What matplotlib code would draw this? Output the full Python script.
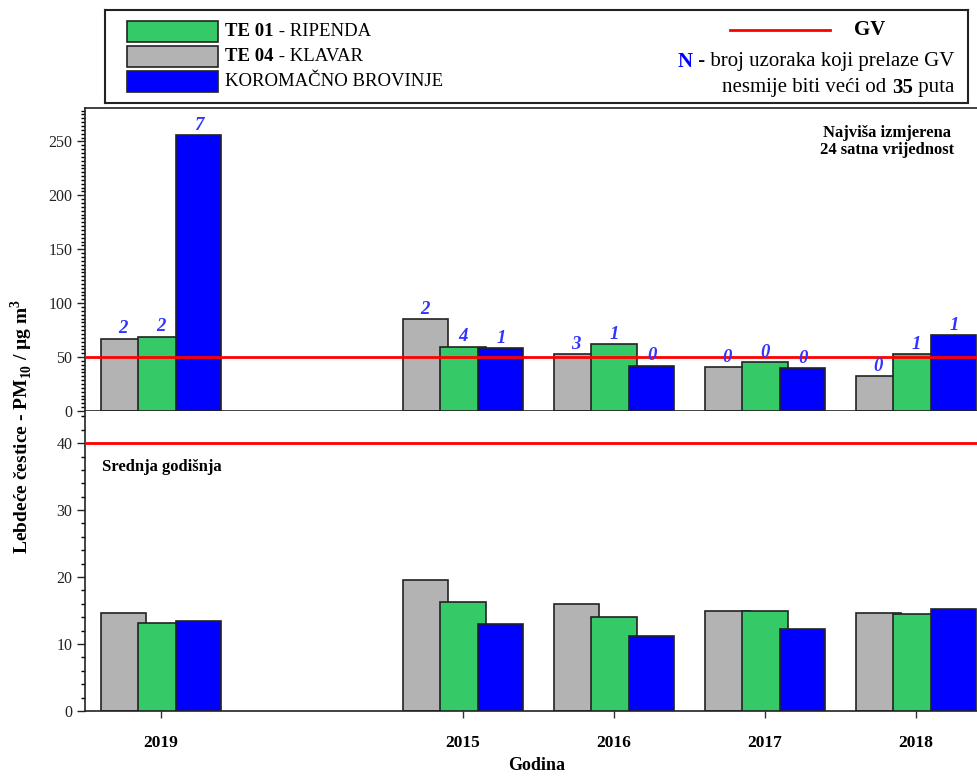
import numpy as np
import matplotlib.pyplot as plt
from matplotlib.patches import Rectangle
from matplotlib.ticker import MultipleLocator

plt.rcParams['font.family'] = ['Liberation Serif', 'DejaVu Serif']
plt.rcParams['mathtext.fontset'] = 'custom'
plt.rcParams['mathtext.rm'] = 'Liberation Serif'
plt.rcParams['mathtext.bf'] = 'Liberation Serif:bold'

# Podaci (prazno mjesto izmedju 2019 i 2015)
godine = ['2019', '', '2015', '2016', '2017', '2018']

maks_te04 = [67, np.nan, 85, 52.5, 40.5, 32]
maks_te01 = [69, np.nan, 59.5, 62, 45, 52.5]
maks_koromacno = [256, np.nan, 58, 42, 39.5, 70.5]

n_te04 = [2, None, 2, 3, 0, 0]
n_te01 = [2, None, 4, 1, 0, 1]
n_koromacno = [7, None, 1, 0, 0, 1]

sred_te04 = [14.7, np.nan, 19.6, 15.9, 14.9, 14.7]
sred_te01 = [13.2, np.nan, 16.2, 14.1, 14.9, 14.5]
sred_koromacno = [13.4, np.nan, 13.0, 11.2, 12.2, 15.3]

gv_24h = 50
gv_god = 40

boje = {'te04': '#b3b3b3', 'te01': '#35c967', 'kor': '#0000ff'}
sirina = 0.30
pomak = 0.25
x = np.arange(len(godine))

fig = plt.figure(figsize=(9.78, 7.76), dpi=100)
ax_max = fig.add_axes([0.0874, 0.4704, 0.9126, 0.3904])
ax_sr = fig.add_axes([0.0874, 0.0838, 0.9126, 0.3866])

serije_max = [(maks_te04, n_te04, 'te04'), (maks_te01, n_te01, 'te01'),
              (maks_koromacno, n_koromacno, 'kor')]
serije_sr = [(sred_te04, 'te04'), (sred_te01, 'te01'), (sred_koromacno, 'kor')]

# Gornji graf - najvisa 24 satna vrijednost
for i, (vrijednosti, brojevi, kljuc) in enumerate(serije_max):
    pozicije = x + (i - 1) * pomak
    ax_max.bar(pozicije, vrijednosti, width=sirina, color=boje[kljuc],
               edgecolor='#222222', linewidth=1.2, zorder=2 + i)
    for xp, v, n in zip(pozicije, vrijednosti, brojevi):
        if n is None:
            continue
        ax_max.annotate(str(n), (xp, v), xytext=(0, 1), textcoords='offset points',
                        ha='center', va='bottom', fontsize=13.5, fontweight='bold',
                        fontstyle='italic', color='#3333ff', zorder=10)
ax_max.axhline(gv_24h, color='red', linewidth=2, zorder=8)

# Donji graf - srednja godisnja
for i, (vrijednosti, kljuc) in enumerate(serije_sr):
    pozicije = x + (i - 1) * pomak
    ax_sr.bar(pozicije, vrijednosti, width=sirina, color=boje[kljuc],
              edgecolor='#222222', linewidth=1.2, zorder=2 + i)
ax_sr.axhline(gv_god, color='red', linewidth=2, zorder=8)

for ax in (ax_max, ax_sr):
    ax.set_xlim(-0.5, 5.41)
    ax.set_xticks([p for p, g in zip(x, godine) if g])
    ax.tick_params(axis='x', direction='out', length=5, width=1, colors='#333333')
    ax.tick_params(axis='y', which='major', direction='out', length=6, width=1,
                   labelsize=11.5, colors='#222222')
    ax.tick_params(axis='y', which='minor', direction='out', length=3, width=1)
    ax.spines['right'].set_visible(False)
    for s in ('left', 'bottom', 'top'):
        ax.spines[s].set_color('#222222')
        ax.spines[s].set_linewidth(1.2)

ax_max.set_ylim(0, 281)
ax_max.yaxis.set_major_locator(MultipleLocator(50))
ax_max.yaxis.set_minor_locator(MultipleLocator(50 / 14))
ax_max.set_xticklabels([])

ax_sr.set_ylim(0, 44.8)
ax_sr.yaxis.set_major_locator(MultipleLocator(10))
ax_sr.yaxis.set_minor_locator(MultipleLocator(2))
ax_sr.spines['top'].set_visible(False)
ax_sr.set_xticklabels([g for g in godine if g], fontsize=12.5, fontweight='bold')
ax_sr.tick_params(axis='x', pad=12, labelcolor='black')

ax_max.text(0.898, 0.944, 'Najviša izmjerena\n24 satna vrijednost', transform=ax_max.transAxes,
            ha='center', va='top', fontsize=12, fontweight='bold', linespacing=1.05)
ax_sr.text(0.0185, 0.813, 'Srednja godišnja', transform=ax_sr.transAxes,
           ha='left', va='center', fontsize=12, fontweight='bold')

fig.text(22 / 978, 1 - 426 / 776, r'Lebdeće čestice - PM$_{\mathbf{10}}$ / µg m$^{\mathbf{3}}$',
         rotation=90, ha='center', va='center', fontsize=14, fontweight='bold')
fig.text(537 / 978, 1 - 765 / 776, 'Godina', ha='center', va='center',
         fontsize=13, fontweight='bold')

# Legenda u okviru
ax_leg = fig.add_axes([0.1074, 0.8673, 0.8824, 0.1198])
ax_leg.set_xlim(105, 968)
ax_leg.set_ylim(103, 10)
ax_leg.set_xticks([])
ax_leg.set_yticks([])
for s in ax_leg.spines.values():
    s.set_linewidth(1.5)
    s.set_color('#222222')

stavke = [('te01', 'TE 01', ' - RIPENDA'), ('te04', 'TE 04', ' - KLAVAR'),
          ('kor', '', 'KOROMAČNO BROVINJE')]
for k, (kljuc, podeblje, ostalo) in enumerate(stavke):
    yc = 31.5 + k * 25
    ax_leg.add_patch(Rectangle((127, yc - 10.5), 91, 21, facecolor=boje[kljuc],
                               edgecolor='#222222', linewidth=1.2))
    if podeblje:
        t = ax_leg.text(225, yc, podeblje, ha='left', va='center', fontsize=13.5,
                        fontweight='bold')
        ax_leg.annotate(ostalo, xy=(1, 0.5), xycoords=t, ha='left', va='center',
                        fontsize=13.5)
    else:
        ax_leg.text(225, yc, ostalo, ha='left', va='center', fontsize=13.5)

ax_leg.plot([730, 830], [30, 30], color='red', linewidth=2)
ax_leg.text(870, 30, 'GV', ha='center', va='center', fontsize=15, fontweight='bold')
t = ax_leg.text(954, 62, ' - broj uzoraka koji prelaze GV', ha='right', va='center',
                fontsize=15)
ax_leg.annotate('N', xy=(0, 0.5), xycoords=t, ha='right', va='center', fontsize=15,
                fontweight='bold', color='#0000ff')
t = ax_leg.text(954, 88, ' puta', ha='right', va='center', fontsize=15)
t = ax_leg.annotate('35', xy=(0, 0.5), xycoords=t, ha='right', va='center',
                    fontsize=15, fontweight='bold')
ax_leg.annotate('nesmije biti veći od ', xy=(0, 0.5), xycoords=t, ha='right',
                va='center', fontsize=15)

fig.savefig('out.png', dpi=100)
